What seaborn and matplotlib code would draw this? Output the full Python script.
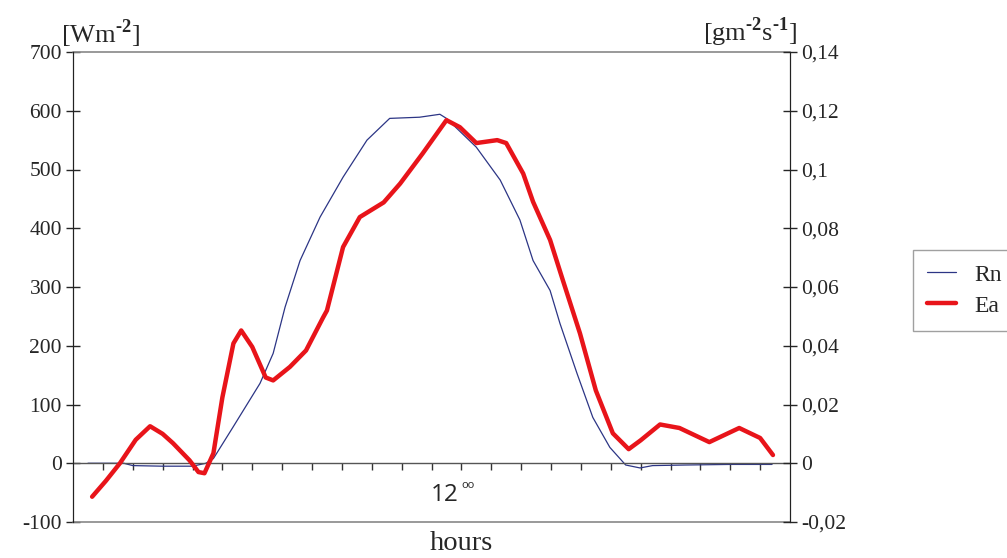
import numpy as np
import pandas as pd
import matplotlib
matplotlib.use('Agg')
import matplotlib.pyplot as plt
import seaborn as sns

# Rn, net radiation [W m-2] (left axis)
rn_hours = [0.5, 1.7, 2.0, 3.0, 4.0, 4.45, 4.7, 5.35, 6.26, 6.7, 7.1, 7.6, 8.27,
            9.04, 9.84, 10.6, 11.6, 12.28, 12.5, 13.5, 14.3, 14.96, 15.4, 15.97,
            16.3, 16.87, 17.4, 17.97, 18.5, 18.98, 19.4, 20.5, 22.0, 23.4]
rn_vals = [0, 0, -4, -5, -5, 0, 8, 61, 136, 187, 266, 345, 419,
           487, 550, 587, 589, 594, 587, 538, 482, 414, 345, 294,
           238, 153, 78, 27, -3, -8, -4, -3, -2, -2]

# Ea, evaporation [g m-2 s-1] (right axis)
ea_hours = [0.64, 1.1, 1.57, 2.1, 2.58, 3.0, 3.35, 3.9, 4.2, 4.4, 4.7, 5.0, 5.37,
            5.63, 6.0, 6.45, 6.7, 7.26, 7.8, 8.37, 8.5, 9.04, 9.6, 10.4, 10.95,
            11.7, 12.5, 12.95, 13.5, 14.2, 14.5, 15.07, 15.4, 15.97, 16.4, 16.97,
            17.5, 18.07, 18.6, 19.0, 19.65, 20.3, 21.3, 22.3, 23.0, 23.43]
ea_vals = [-0.0114, -0.0060, 0.0000, 0.0080, 0.0126, 0.0100, 0.0068, 0.0010, -0.0030,
           -0.0034, 0.0034, 0.0224, 0.0408, 0.0452, 0.0396, 0.0292, 0.0282, 0.0328,
           0.0384, 0.0496, 0.0520, 0.0736, 0.0838, 0.0888, 0.0952, 0.1054, 0.1168,
           0.1144, 0.1090, 0.1100, 0.1090, 0.0986, 0.0890, 0.0760, 0.0622, 0.0442,
           0.0248, 0.0102, 0.0048, 0.0078, 0.0132, 0.0120, 0.0072, 0.0120, 0.0086,
           0.0028]

left_ticks = [-100, 0, 100, 200, 300, 400, 500, 600, 700]
right_ticks = [-0.02, 0, 0.02, 0.04, 0.06, 0.08, 0.1, 0.12, 0.14]
right_labels = ['-0,02', '0', '0,02', '0,04', '0,06', '0,08', '0,1', '0,12', '0,14']

rn = pd.DataFrame({'hour': rn_hours, 'val': rn_vals})
ea = pd.DataFrame({'hour': ea_hours, 'val': ea_vals})

sns.set_style('ticks')
plt.rcParams['font.family'] = ['Liberation Serif', 'DejaVu Serif']
plt.rcParams['axes.unicode_minus'] = False
plt.rcParams['mathtext.fontset'] = 'custom'
plt.rcParams['mathtext.rm'] = 'Liberation Serif:bold'
plt.rcParams['mathtext.bf'] = 'Liberation Serif:bold'

fig = plt.figure(figsize=(10.07, 5.58), dpi=100)
ax = fig.add_axes([73 / 1007, 36 / 558, 717 / 1007, 470 / 558])
ax2 = ax.twinx()

blue = '#2c3585'
red = '#e8141a'
sns.lineplot(data=rn, x='hour', y='val', ax=ax, color=blue, lw=0.9, label='Rn', legend=False)
sns.lineplot(data=ea, x='hour', y='val', ax=ax2, color=red, lw=3.2, label='Ea', legend=False)

ax.set_xlim(0, 24)
ax.set_ylim(-100, 700)
ax2.set_ylim(-0.02, 0.14)
ax.set_yticks(left_ticks)
ax.set_yticklabels([str(t) for t in left_ticks])
ax2.set_yticks(right_ticks)
ax2.set_yticklabels(right_labels)

# zero line with hour ticks
for a in (ax, ax2):
    a.spines['top'].set_visible(False)
ax.spines['bottom'].set_position(('data', 0))
ax.spines['bottom'].set_color('#555555')
ax.spines['bottom'].set_linewidth(1.0)
ax.set_xticks(range(1, 24))
ax.set_xticklabels([])
ax.tick_params(axis='x', direction='out', length=5, width=1.0, color='#333333')
ax2.spines['bottom'].set_visible(False)
ax.axhline(-100, color='#888888', lw=1.2, clip_on=False)
ax.axhline(700, color='#888888', lw=1.2, clip_on=False)

ax.tick_params(axis='y', direction='inout', length=10, width=1.0, labelsize=15.5, pad=3)
ax2.tick_params(axis='y', direction='inout', length=10, width=1.0, labelsize=15.5, pad=3)
for a in (ax, ax2):
    a.spines['left'].set_color('#222222')
    a.spines['right'].set_color('#222222')
ax.set_xlabel('')
ax.set_ylabel('')
ax2.set_ylabel('')

fig.text(61 / 1007, 1 - 34 / 558, '[Wm$^{\\text{-2}}$]', fontsize=19, va='center', ha='left')
fig.text(797 / 1007, 1 - 32 / 558, '[gm$^{\\text{-2}}$s$^{\\text{-1}}$]', fontsize=19,
         va='center', ha='right')
fig.text(430 / 1007, 1 - 543 / 558, 'hours', fontsize=20.5, ha='left', va='center')
fig.text(431 / 1007, 1 - 495 / 558, '12', fontsize=17.5, ha='left', va='center', family='Open Sans')
fig.text(461 / 1007, 1 - 485 / 558, 'oo', fontsize=8, ha='left', va='center', family='Open Sans')

h1, l1 = ax.get_legend_handles_labels()
h2, l2 = ax2.get_legend_handles_labels()
leg = fig.legend(h1 + h2, ['Rn', 'Ea'], loc='upper left', mode='expand',
                 bbox_to_anchor=(913 / 1007, 1 - 336 / 558, 130 / 1007, 86 / 558),
                 fontsize=17, frameon=True, fancybox=False, handlelength=1.2,
                 borderpad=0.6, borderaxespad=0, labelspacing=0.4, handletextpad=0.8)
leg.get_frame().set_edgecolor('#888888')
leg.get_frame().set_linewidth(1.0)

fig.savefig('out.png', dpi=100)
